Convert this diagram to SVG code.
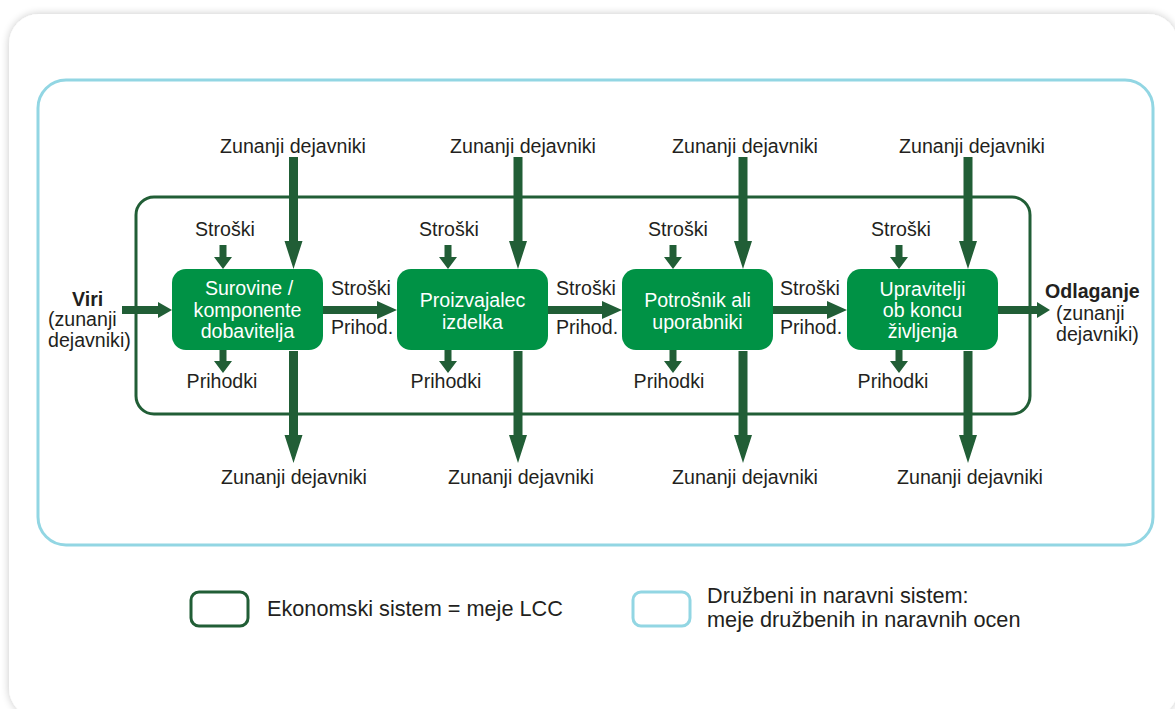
<svg xmlns="http://www.w3.org/2000/svg" xmlns:xlink="http://www.w3.org/1999/xlink" width="1175" height="709" viewBox="0 0 1175 709">
  <style>
    text { font-family: "Liberation Sans", Arial, Helvetica, sans-serif; font-size: 19.6px; fill: #231f20; }
    .lbl-c { text-anchor: middle; }
    .bold { font-weight: bold; }
    .node rect { fill: #009245; }
    .node text { fill: #ffffff; text-anchor: middle; }
    .arrow { fill: #215e36; }
    .eco { fill: none; stroke: #215e36; stroke-width: 3; }
    .soc { fill: none; stroke: #92d6e3; stroke-width: 3; }
    .legend text { font-size: 21.7px; }
  </style>
  <defs>
    <filter id="cardShadow" x="-5%" y="-5%" width="110%" height="110%">
      <feGaussianBlur in="SourceAlpha" stdDeviation="4"/>
      <feComponentTransfer><feFuncA type="linear" slope="0.22"/></feComponentTransfer>
      <feMerge><feMergeNode/><feMergeNode in="SourceGraphic"/></feMerge>
    </filter>
    <!-- long vertical arrow for external factors, tip at origin -->
    <path id="ext-arrow" d="M-4.5,-112 H4.5 V-28 H9 L0,0 L-9,-28 H-4.5 Z"/>
    <!-- short vertical arrow for costs / revenues, tip at origin -->
    <path id="small-arrow" d="M-3.5,-24 H3.5 V-12 H9 L0,0 L-9,-12 H-3.5 Z"/>
    <!-- horizontal flow arrow between stages, tip at origin -->
    <path id="flow-arrow" d="M-74,-4 H-20 V-9 L0,0 L-20,9 V4 H-74 Z"/>
  </defs>

  <!-- page and card -->
  <rect x="0" y="0" width="1175" height="709" fill="#ffffff"/>
  <rect x="9" y="14" width="1169" height="704" rx="30" fill="#ffffff" filter="url(#cardShadow)"/>

  <!-- system boundaries -->
  <g id="social-system">
    <rect class="soc" x="38" y="80" width="1115" height="465" rx="28"/>
  </g>
  <g id="economic-system">
    <rect class="eco" x="136" y="197" width="894" height="217" rx="18"/>
  </g>

  <!-- connectors -->
  <g id="connectors" class="arrow">
    <!-- inputs from resources -->
    <path d="M122,306 H158 V302 L172,310 L158,318 V314 H122 Z"/>
    <!-- flows between stages -->
    <use xlink:href="#flow-arrow" transform="translate(397,310)"/>
    <use xlink:href="#flow-arrow" transform="translate(622,310)"/>
    <use xlink:href="#flow-arrow" transform="translate(847,310)"/>
    <!-- output to disposal -->
    <path d="M998,306 H1037 V302 L1050,310 L1037,318 V314 H998 Z"/>

    <!-- external factors in -->
    <use xlink:href="#ext-arrow" transform="translate(293.5,269)"/>
    <use xlink:href="#ext-arrow" transform="translate(518,269)"/>
    <use xlink:href="#ext-arrow" transform="translate(743,269)"/>
    <use xlink:href="#ext-arrow" transform="translate(968,269)"/>
    <!-- external factors out -->
    <use xlink:href="#ext-arrow" transform="translate(293.5,463)"/>
    <use xlink:href="#ext-arrow" transform="translate(518,463)"/>
    <use xlink:href="#ext-arrow" transform="translate(743,463)"/>
    <use xlink:href="#ext-arrow" transform="translate(968,463)"/>

    <!-- costs in -->
    <use xlink:href="#small-arrow" transform="translate(223,269)"/>
    <use xlink:href="#small-arrow" transform="translate(448,269)"/>
    <use xlink:href="#small-arrow" transform="translate(673,269)"/>
    <use xlink:href="#small-arrow" transform="translate(899,269)"/>
    <!-- revenues out -->
    <use xlink:href="#small-arrow" transform="translate(223,373)"/>
    <use xlink:href="#small-arrow" transform="translate(448,373)"/>
    <use xlink:href="#small-arrow" transform="translate(673,373)"/>
    <use xlink:href="#small-arrow" transform="translate(899,373)"/>
  </g>

  <!-- stages -->
  <g id="node-supplier" class="node">
    <rect x="172" y="269" width="151" height="81" rx="14"/>
    <text x="249" y="295">Surovine /</text>
    <text x="247.5" y="317">komponente</text>
    <text x="247.5" y="338">dobavitelja</text>
  </g>
  <g id="node-producer" class="node">
    <rect x="397" y="269" width="151" height="81" rx="14"/>
    <text x="472.5" y="307">Proizvajalec</text>
    <text x="472.5" y="329">izdelka</text>
  </g>
  <g id="node-consumer" class="node">
    <rect x="622" y="269" width="151" height="81" rx="14"/>
    <text x="697.5" y="307">Potrošnik ali</text>
    <text x="697.5" y="329">uporabniki</text>
  </g>
  <g id="node-eol" class="node">
    <rect x="847" y="269" width="151" height="81" rx="14"/>
    <text x="922.5" y="296">Upravitelji</text>
    <text x="922.5" y="317">ob koncu</text>
    <text x="922.5" y="338">življenja</text>
  </g>

  <!-- resources and disposal -->
  <g id="node-resources">
    <text class="bold" x="72" y="306">Viri</text>
    <text x="48" y="326">(zunanji</text>
    <text x="48" y="347">dejavniki)</text>
  </g>
  <g id="node-disposal">
    <text class="bold" x="1045" y="298">Odlaganje</text>
    <text x="1056" y="320">(zunanji</text>
    <text x="1056" y="341">dejavniki)</text>
  </g>

  <!-- external factor labels -->
  <g id="labels-external" class="lbl-c">
    <text x="293" y="153">Zunanji dejavniki</text>
    <text x="523" y="153">Zunanji dejavniki</text>
    <text x="745" y="153">Zunanji dejavniki</text>
    <text x="972" y="153">Zunanji dejavniki</text>
    <text x="294" y="484">Zunanji dejavniki</text>
    <text x="521" y="484">Zunanji dejavniki</text>
    <text x="745" y="484">Zunanji dejavniki</text>
    <text x="970" y="484">Zunanji dejavniki</text>
  </g>

  <!-- cost and revenue labels -->
  <g id="labels-money" class="lbl-c">
    <text x="225" y="236">Stroški</text>
    <text x="449" y="236">Stroški</text>
    <text x="678" y="236">Stroški</text>
    <text x="901" y="236">Stroški</text>
    <text x="222" y="388">Prihodki</text>
    <text x="446" y="388">Prihodki</text>
    <text x="669" y="388">Prihodki</text>
    <text x="893" y="388">Prihodki</text>
  </g>
  <g id="labels-flow">
    <text x="331" y="295">Stroški</text>
    <text x="331" y="334">Prihod.</text>
    <text x="556" y="295">Stroški</text>
    <text x="556" y="334">Prihod.</text>
    <text x="780" y="295">Stroški</text>
    <text x="780" y="334">Prihod.</text>
  </g>

  <!-- legend -->
  <g id="legend" class="legend">
    <rect class="eco" x="191" y="592" width="57" height="34" rx="8"/>
    <text x="267" y="616">Ekonomski sistem = meje LCC</text>
    <rect class="soc" x="633" y="592" width="57" height="34" rx="8"/>
    <text x="707" y="603">Družbeni in naravni sistem:</text>
    <text x="707" y="627">meje družbenih in naravnih ocen</text>
  </g>
</svg>
